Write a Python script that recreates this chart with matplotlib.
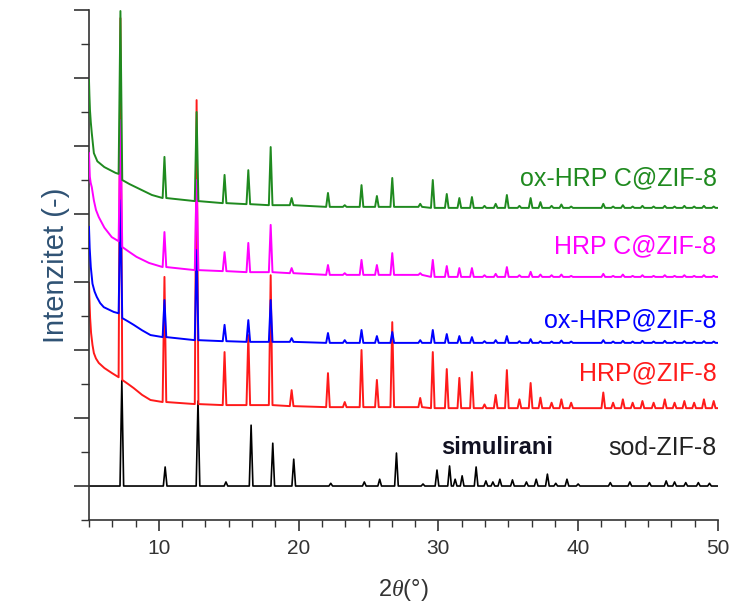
import matplotlib
matplotlib.use('Agg')
import matplotlib.pyplot as plt
from matplotlib.ticker import MultipleLocator

plt.rcParams['font.family'] = ['Liberation Sans', 'DejaVu Sans']
plt.rcParams['mathtext.fontset'] = 'custom'
plt.rcParams['mathtext.rm'] = 'Liberation Sans'
plt.rcParams['mathtext.it'] = 'Liberation Serif:italic'

# ZIF-8 reflections seen in the measured samples (2theta, deg)
PEAKS = [10.4, 12.7, 14.7, 16.4, 18.0, 19.5, 22.1, 23.3, 24.5, 25.6, 26.7, 28.7,
         29.6, 30.6, 31.5, 32.4, 33.3, 34.1, 34.9, 35.8, 36.6, 37.3, 38.1, 38.8,
         39.5, 41.8, 42.5, 43.2, 43.9, 44.6, 45.4, 46.2, 46.9, 47.6, 48.3, 49.0, 49.7]

# HRP@ZIF-8
red_lead_x = [5.0, 5.03, 5.08, 5.15, 5.25, 5.35, 5.5, 5.7, 6.1, 6.65, 7.12, 7.25, 7.38,
              7.8, 8.2, 8.8, 9.4]
red_lead_y = [6.97, 6.5, 5.95, 5.5, 5.15, 4.91, 4.75, 4.62, 4.47, 4.32, 4.2, 14.76, 4.12,
              4.0, 3.88, 3.68, 3.53]
red_top = [7.15, 12.35, 4.94, 5.44, 7.2, 3.82, 4.32, 3.47, 5.0, 4.12, 5.82, 3.59,
           4.94, 4.44, 4.18, 4.35, 3.4, 3.68, 4.41, 3.55, 4.03, 3.6, 3.45, 3.55,
           3.45, 3.75, 3.45, 3.55, 3.45, 3.5, 3.45, 3.55, 3.45, 3.5, 3.45, 3.55, 3.5]
red_base = [3.47, 3.41, 3.38, 3.38, 3.38, 3.35, 3.32, 3.32, 3.32, 3.32, 3.32, 3.32,
            3.29, 3.29, 3.29, 3.29, 3.29, 3.29, 3.29, 3.29, 3.29, 3.29, 3.29, 3.29,
            3.29, 3.29, 3.29, 3.29, 3.29, 3.29, 3.29, 3.29, 3.29, 3.29, 3.29, 3.29, 3.29]

# ox-HRP@ZIF-8
blue_lead_x = [5.0, 5.05, 5.13, 5.25, 5.4, 5.56, 5.8, 6.06, 6.77, 7.12, 7.25, 7.38,
               7.8, 8.2, 8.8, 9.4]
blue_lead_y = [8.62, 8.0, 7.44, 6.95, 6.72, 6.56, 6.38, 6.26, 6.12, 6.08, 9.4, 5.94,
               5.84, 5.74, 5.58, 5.44]
blue_top = [6.47, 7.94, 5.74, 5.88, 6.47, 5.35, 5.5, 5.29, 5.59, 5.41, 5.53, 5.29,
            5.59, 5.47, 5.41, 5.38, 5.26, 5.29, 5.41, 5.26, 5.32, 5.26, 5.25, 5.28,
            5.25, 5.29, 5.25, 5.27, 5.25, 5.27, 5.25, 5.27, 5.25, 5.26, 5.25, 5.26, 5.25]
blue_base = [5.38, 5.29, 5.26, 5.24, 5.24, 5.24, 5.21, 5.21, 5.21, 5.21, 5.21, 5.21,
             5.21, 5.21, 5.21, 5.21, 5.21, 5.21, 5.21, 5.21, 5.21, 5.21, 5.21, 5.21,
             5.21, 5.21, 5.21, 5.21, 5.21, 5.21, 5.21, 5.21, 5.21, 5.21, 5.21, 5.21, 5.21]

# HRP C@ZIF-8
mag_lead_x = [5.0, 5.03, 5.06, 5.12, 5.2, 5.35, 5.5, 5.7, 6.1, 6.63, 7.12, 7.25, 7.38,
              7.9, 8.4, 9.3]
mag_lead_y = [10.79, 10.4, 10.1, 9.92, 9.79, 9.4, 9.12, 8.91, 8.6, 8.32, 8.2, 11.76, 8.03,
              7.88, 7.74, 7.56]
mag_top = [8.47, 10.0, 7.88, 8.15, 8.68, 7.41, 7.5, 7.26, 7.65, 7.5, 7.85, 7.26,
           7.65, 7.47, 7.41, 7.41, 7.2, 7.24, 7.44, 7.2, 7.3, 7.22, 7.2, 7.22,
           7.18, 7.24, 7.18, 7.22, 7.18, 7.2, 7.18, 7.2, 7.18, 7.2, 7.18, 7.2, 7.18]
mag_base = [7.44, 7.35, 7.32, 7.29, 7.29, 7.26, 7.21, 7.21, 7.21, 7.21, 7.21, 7.21,
            7.15, 7.15, 7.15, 7.15, 7.15, 7.15, 7.15, 7.15, 7.15, 7.15, 7.15, 7.15,
            7.15, 7.15, 7.15, 7.15, 7.15, 7.15, 7.15, 7.15, 7.15, 7.15, 7.15, 7.15, 7.15]

# ox-HRP C@ZIF-8
green_lead_x = [5.0, 5.03, 5.07, 5.13, 5.2, 5.35, 5.6, 6.1, 6.9, 7.12, 7.25, 7.38,
                7.9, 8.5, 9.5]
green_lead_y = [12.94, 12.5, 12.06, 11.7, 11.38, 10.79, 10.55, 10.38, 10.21, 10.18, 14.97,
                10.0, 9.88, 9.76, 9.56]
green_top = [10.68, 12.0, 10.15, 10.29, 10.97, 9.47, 9.62, 9.26, 9.85, 9.53, 10.06, 9.3,
             10.0, 9.59, 9.47, 9.5, 9.24, 9.3, 9.56, 9.24, 9.47, 9.35, 9.24, 9.28,
             9.22, 9.3, 9.22, 9.26, 9.22, 9.24, 9.22, 9.24, 9.22, 9.24, 9.22, 9.24, 9.22]
green_base = [9.47, 9.38, 9.32, 9.29, 9.26, 9.26, 9.21, 9.21, 9.21, 9.21, 9.21, 9.21,
              9.18, 9.18, 9.18, 9.18, 9.18, 9.18, 9.18, 9.18, 9.18, 9.18, 9.18, 9.18,
              9.18, 9.18, 9.18, 9.18, 9.18, 9.18, 9.18, 9.18, 9.18, 9.18, 9.18, 9.18, 9.18]

# simulated sod-ZIF-8 pattern
sim_pos = [7.35, 10.45, 12.8, 14.8, 16.6, 18.15, 19.65, 22.3, 24.7, 25.8, 27.0, 28.9,
           29.9, 30.8, 31.2, 31.7, 32.7, 33.4, 33.9, 34.4, 35.3, 36.3, 37.0, 37.8,
           38.4, 39.2, 40.0, 42.3, 43.7, 45.1, 46.3, 46.9, 47.7, 48.6, 49.4]
sim_top = [4.1, 1.56, 3.5, 1.12, 2.79, 2.26, 1.79, 1.08, 1.12, 1.2, 1.97, 1.06,
           1.47, 1.59, 1.2, 1.3, 1.56, 1.15, 1.12, 1.2, 1.18, 1.12, 1.2, 1.35,
           1.08, 1.2, 1.06, 1.1, 1.12, 1.1, 1.15, 1.12, 1.1, 1.1, 1.08]
sim_level = 1.0

PEAK_HW = 0.13


def build_trace(lead_x, lead_y, pos, top, base, end_x=50.0):
    x, y = list(lead_x), list(lead_y)
    for p, t, b in zip(pos, top, base):
        x += [p - PEAK_HW, p, p + PEAK_HW]
        y += [b, t, b]
    x.append(end_x)
    y.append(base[-1])
    return x, y


fig = plt.figure(figsize=(7.33, 6.07), dpi=100)
ax = fig.add_axes([0.1214, 0.1433, 0.858, 0.8402])

sx, sy = build_trace([5.0], [sim_level], sim_pos, sim_top, [sim_level] * len(sim_pos))
ax.plot(sx, sy, color='black', lw=1.2, zorder=1)

traces = [
    (red_lead_x, red_lead_y, red_top, red_base, '#ff1a1a', 2),
    (blue_lead_x, blue_lead_y, blue_top, blue_base, '#0000ff', 3),
    (mag_lead_x, mag_lead_y, mag_top, mag_base, '#ff00ff', 4),
    (green_lead_x, green_lead_y, green_top, green_base, '#1f8a1f', 5),
]
for lx, ly, top, base, col, z in traces:
    x, y = build_trace(lx, ly, PEAKS, top, base)
    ax.plot(x, y, color=col, lw=1.4, zorder=z, solid_joinstyle='round')

# sample names on the right
lab_kw = dict(ha='right', va='center', fontsize=18)
ax.text(49.9, 10.06, 'ox-HRP C@ZIF-8', color='#1f8a1f', **lab_kw)
ax.text(49.9, 8.06, 'HRP C@ZIF-8', color='#ff00ff', **lab_kw)
ax.text(49.9, 5.88, 'ox-HRP@ZIF-8', color='#0000ff', **lab_kw)
ax.text(49.9, 4.32, 'HRP@ZIF-8', color='#ff1a1a', **lab_kw)
ax.text(49.9, 2.12, 'sod-ZIF-8', color='#222222', **lab_kw)
ax.text(38.2, 2.12, 'simulirani', color='#111122', ha='right', va='center',
        fontsize=17, fontweight='bold')

ax.set_xlim(5, 50)
ax.set_ylim(0, 15)
ax.xaxis.set_major_locator(MultipleLocator(10))
ax.xaxis.set_minor_locator(MultipleLocator(10 / 6))
ax.yaxis.set_major_locator(MultipleLocator(2, offset=1))
ax.yaxis.set_minor_locator(MultipleLocator(1))
ax.set_yticklabels([])

for side in ['top', 'right']:
    ax.spines[side].set_visible(False)
for side in ['left', 'bottom']:
    ax.spines[side].set_color('#333333')
    ax.spines[side].set_linewidth(1.2)

ax.tick_params(axis='x', which='major', length=8, width=1.2, color='#333333',
               labelsize=15, labelcolor='#333333', pad=6)
ax.tick_params(axis='x', which='minor', length=5, width=1.0, color='#333333')
ax.tick_params(axis='y', which='major', length=11, width=1.2, color='#333333')
ax.tick_params(axis='y', which='minor', length=6, width=1.0, color='#333333')

ax.set_xlabel(r'2$\theta$(°)', fontsize=17, color='#333333')
ax.xaxis.set_label_coords(0.5, -0.112)
ax.set_ylabel('Intenzitet (-)', fontsize=21, color='#2f5274')
ax.yaxis.set_label_coords(-0.03, 0.5)

fig.savefig('out.png', dpi=100, facecolor='white')
